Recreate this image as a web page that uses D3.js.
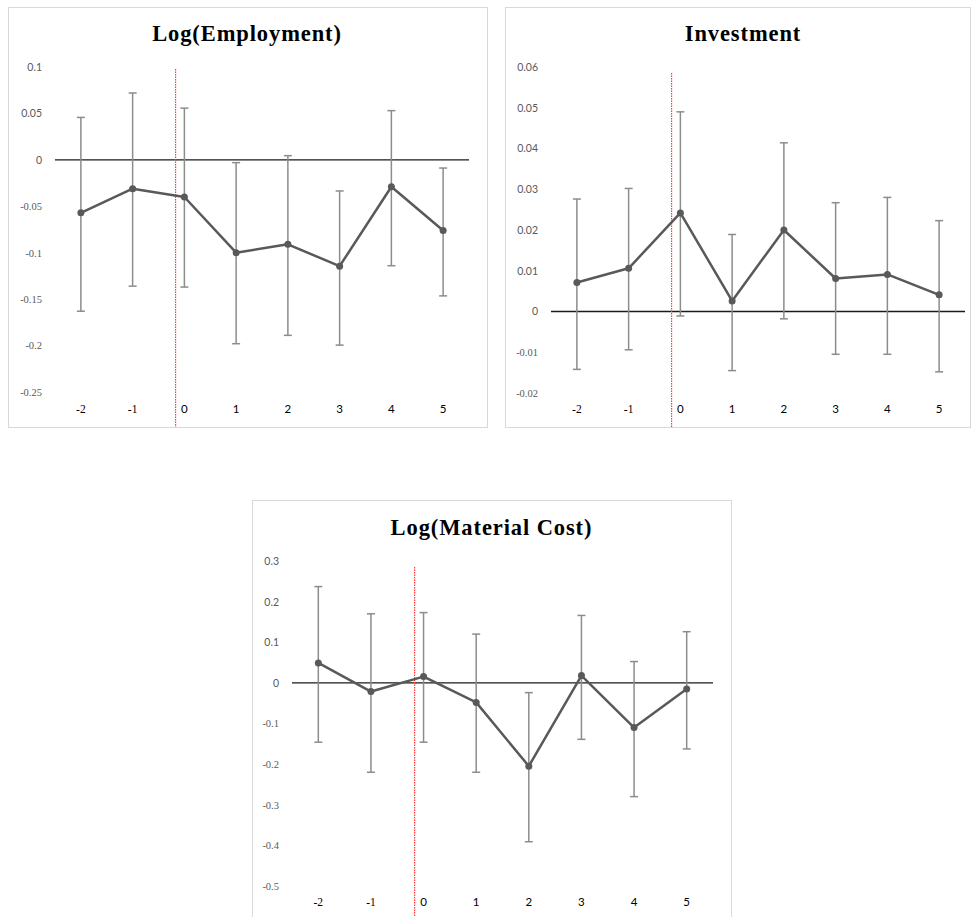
<!DOCTYPE html>
<html><head><meta charset="utf-8">
<script src="https://cdn.jsdelivr.net/npm/d3@7"></script>
<style>body{margin:0;background:#fff}svg{display:block}</style>
</head><body>
<svg id="c" width="972" height="917"></svg>
<script>
const categories = ["-2","-1","0","1","2","3","4","5"];

const empTitle = "Log(Employment)";
const empValues = [-0.057,-0.031,-0.040,-0.100,-0.091,-0.1145,-0.029,-0.076];
const empUpper  = [0.0457,0.072,0.0557,-0.003,0.0045,-0.0335,0.053,-0.0088];
const empLower  = [-0.163,-0.136,-0.137,-0.198,-0.189,-0.1995,-0.114,-0.1465];
const empTicks  = [0.1,0.05,0,-0.05,-0.1,-0.15,-0.2,-0.25];
const empTickLabels = ["0.1","0.05","0","-0.05","-0.1","-0.15","-0.2","-0.25"];

const invTitle = "Investment";
const invValues = [0.0071,0.0106,0.0242,0.0026,0.0200,0.0081,0.0091,0.0041];
const invUpper  = [0.0276,0.0302,0.0490,0.0189,0.0414,0.0267,0.0280,0.0223];
const invLower  = [-0.0142,-0.0094,-0.0011,-0.0145,-0.0018,-0.0105,-0.0105,-0.0148];
const invTicks  = [0.06,0.05,0.04,0.03,0.02,0.01,0,-0.01,-0.02];
const invTickLabels = ["0.06","0.05","0.04","0.03","0.02","0.01","0","-0.01","-0.02"];

const matTitle = "Log(Material Cost)";
const matValues = [0.049,-0.0214,0.0155,-0.048,-0.205,0.018,-0.110,-0.0148];
const matUpper  = [0.237,0.170,0.173,0.120,-0.024,0.166,0.0525,0.126];
const matLower  = [-0.146,-0.220,-0.146,-0.220,-0.391,-0.139,-0.280,-0.1626];
const matTicks  = [0.3,0.2,0.1,0,-0.1,-0.2,-0.3,-0.4,-0.5];
const matTickLabels = ["0.3","0.2","0.1","0","-0.1","-0.2","-0.3","-0.4","-0.5"];

// event marker position (in category units, relative to category "0")
const eventOffset = -0.17;

const panels = [
  {title: empTitle, v: empValues, hi: empUpper, lo: empLower, ticks: empTicks, labels: empTickLabels,
   box: {x:8, y:7, w:479, h:420}, plot: {x0:55, x1:469, yTop:67, yBot:392}, domain:[0.1,-0.25], titleX:247, titleY:41, xLabY:414, redTop:69},
  {title: invTitle, v: invValues, hi: invUpper, lo: invLower, ticks: invTicks, labels: invTickLabels,
   box: {x:505, y:7, w:465, h:420}, plot: {x0:551, x1:965, yTop:67, yBot:393}, domain:[0.06,-0.02], titleX:743, titleY:41, xLabY:414, redTop:73},
  {title: matTitle, v: matValues, hi: matUpper, lo: matLower, ticks: matTicks, labels: matTickLabels,
   box: {x:252, y:500, w:479, h:430}, plot: {x0:292, x1:713, yTop:561, yBot:886}, domain:[0.3,-0.5], titleX:491.5, titleY:535, xLabY:907, redTop:567},
];

const svg = d3.select("#c");
const sansFont = "Lato, 'Open Sans', sans-serif";
const serifFont = "'Liberation Serif', 'DejaVu Serif', serif";

panels.forEach(p => {
  const g = svg.append("g");
  g.append("rect").attr("x", p.box.x + 0.5).attr("y", p.box.y + 0.5)
    .attr("width", p.box.w).attr("height", p.box.h)
    .attr("fill", "#fff").attr("stroke", "#d9d9d9").attr("stroke-width", 1);

  const x = d3.scaleBand().domain(categories).range([p.plot.x0, p.plot.x1]);
  const cx = c => x(c) + x.bandwidth() / 2;
  const y = d3.scaleLinear().domain(p.domain).range([p.plot.yTop, p.plot.yBot]);

  // title
  g.append("text").attr("x", p.titleX).attr("y", p.titleY)
    .attr("text-anchor", "middle").attr("font-family", serifFont)
    .attr("font-weight", "bold").attr("font-size", 22.5).attr("letter-spacing", 0.9).attr("fill", "#000")
    .text(p.title);

  // y tick labels
  const yAxis = d3.axisLeft(y).tickValues(p.ticks).tickSize(0)
    .tickFormat((d, i) => p.labels[i]);
  const ya = g.append("g").attr("transform", `translate(${p.plot.x0 - 10},0)`).call(yAxis);
  ya.select(".domain").remove();
  ya.selectAll("text").attr("fill", "#595959").attr("font-size", 10.5)
    .attr("font-family", (d, i) => p.labels[i].startsWith("-") ? serifFont : sansFont);

  // x labels
  const xAxis = d3.axisBottom(x).tickSize(0);
  const xa = g.append("g").attr("transform", `translate(0,${p.xLabY - 12})`).call(xAxis);
  xa.select(".domain").remove();
  xa.selectAll("text").attr("fill", "#000").attr("font-size", 11.5)
    .attr("font-family", d => d.startsWith("-") ? serifFont : sansFont);

  // zero line
  g.append("line").attr("x1", p.plot.x0).attr("x2", p.plot.x1)
    .attr("y1", y(0)).attr("y2", y(0)).attr("stroke", "#1a1a1a").attr("stroke-width", 1.3);

  // red event line
  const rx = cx("0") + eventOffset * x.bandwidth();
  g.append("line").attr("x1", rx).attr("x2", rx)
    .attr("y1", p.redTop).attr("y2", p.box.y + p.box.h)
    .attr("stroke", "#ff3b3b").attr("stroke-width", 1.2).attr("stroke-dasharray", "1.5,1");

  // error bars
  const eb = g.append("g").attr("stroke", "#8c8c8c").attr("stroke-width", 1.5);
  categories.forEach((c, i) => {
    eb.append("line").attr("x1", cx(c)).attr("x2", cx(c)).attr("y1", y(p.hi[i])).attr("y2", y(p.lo[i]));
    eb.append("line").attr("x1", cx(c) - 4).attr("x2", cx(c) + 4).attr("y1", y(p.hi[i])).attr("y2", y(p.hi[i]));
    eb.append("line").attr("x1", cx(c) - 4).attr("x2", cx(c) + 4).attr("y1", y(p.lo[i])).attr("y2", y(p.lo[i]));
  });

  // line
  const line = d3.line().x((d, i) => cx(categories[i])).y(d => y(d));
  g.append("path").datum(p.v).attr("d", line).attr("fill", "none")
    .attr("stroke", "#595959").attr("stroke-width", 2.5).attr("stroke-linejoin", "round");
  g.selectAll("circle.pt").data(p.v).enter().append("circle")
    .attr("cx", (d, i) => cx(categories[i])).attr("cy", d => y(d)).attr("r", 3.5)
    .attr("fill", "#595959");
});
</script>
</body></html>
